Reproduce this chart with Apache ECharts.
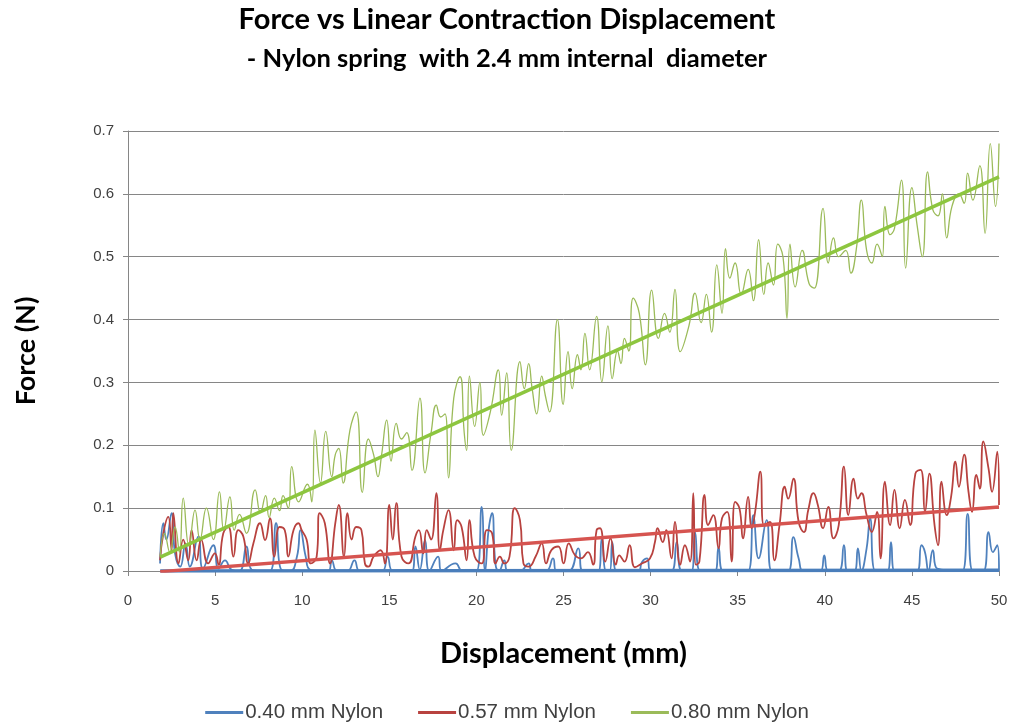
<!DOCTYPE html>
<html><head><meta charset="utf-8">
<script src="https://cdn.jsdelivr.net/npm/echarts@6/dist/echarts.min.js"></script>
<style>html,body{margin:0;padding:0;background:#fff}#c{width:1014px;height:724px}</style>
</head><body><div id="c"></div>
<script>
const titleText = "Force vs Linear Contraction Displacement";
const subtitleText = "- Nylon spring  with 2.4 mm internal  diameter";
const xAxisTitle = "Displacement (mm)";
const yAxisTitle = "Force (N)";
const seriesNames = ["0.40 mm Nylon", "0.57 mm Nylon", "0.80 mm Nylon"];

const blueX = [1.84,2.03,2.2,2.5,2.7,3.0,3.3,3.55,4.04,4.3,4.9,5.2,5.57,5.95,6.4,6.8,7.1,7.6,8.15,8.5,8.8,9.3,9.7,9.9,10.2,10.45,11.0,11.5,11.7,12.0,12.6,13.0,13.3,14.0,14.6,14.9,15.2,15.8,16.3,16.5,16.75,17.05,17.3,17.8,18.0,18.8,19.2,20.0,20.3,20.5,20.7,20.9,21.1,21.3,21.6,21.8,22.5,23.0,23.2,24.0,24.4,24.6,25.3,25.85,26.1,27.0,27.2,27.45,27.65,27.8,28.05,29.3,29.5,29.8,30.0,31.2,31.5,31.8,32.35,32.55,32.85,33.7,33.9,34.15,35.6,35.9,36.2,36.66,36.95,37.9,38.2,38.5,38.8,39.75,39.97,40.2,40.8,41.1,41.3,41.7,41.9,42.1,42.4,42.6,42.9,43.6,43.8,44.0,45.3,45.55,45.75,45.95,46.2,46.45,47.9,48.2,48.5,49.1,49.4,49.65,49.9,50.0];
const blueY = [0.012,0.076,0.05,0.092,0.028,0.007,0.044,0.007,0.055,0.004,0.041,0.004,0.017,0.002,0.0,0.039,0.002,0.0,0.0,0.076,0.002,0.0,0.023,0.065,0.023,0.002,0.0,0.0,0.017,0.0,0.0,0.017,0.0,0.0,0.0,0.023,0.0,0.0,0.0,0.039,0.002,0.049,0.0,0.023,0.0,0.012,0.0,0.0,0.102,0.0,0.065,0.092,0.01,0.0,0.017,0.0,0.0,0.012,0.0,0.0,0.02,0.0,0.0,0.036,0.0,0.0,0.052,0.0,0.0,0.046,0.0,0.0,0.014,0.02,0.0,0.0,0.046,0.0,0.0,0.062,0.0,0.0,0.038,0.0,0.0,0.089,0.02,0.081,0.0,0.0,0.054,0.02,0.0,0.0,0.025,0.0,0.0,0.041,0.0,0.0,0.036,0.0,0.036,0.084,0.0,0.0,0.046,0.0,0.0,0.041,0.03,0.0,0.033,0.004,0.0,0.091,0.0,0.0,0.062,0.03,0.041,0.0];

const redX = [1.84,2.03,2.31,2.5,2.6,2.9,3.17,3.46,3.65,3.94,4.2,4.6,4.99,5.2,5.47,5.76,6.05,6.33,6.62,6.9,7.2,7.58,7.87,8.15,8.4,8.7,9.0,9.2,9.5,9.78,9.97,10.25,10.5,10.83,11.0,11.3,11.6,11.9,12.1,12.4,12.6,12.84,13.1,13.4,13.6,13.8,14.1,14.5,14.75,15.0,15.2,15.4,15.7,16.1,16.5,16.7,16.95,17.15,17.4,17.7,17.9,18.1,18.4,18.7,18.9,19.15,19.44,19.6,19.9,20.3,20.6,20.9,21.1,21.35,21.6,21.9,22.2,22.5,22.7,23.0,23.4,23.75,24.0,24.3,24.7,25.0,25.3,25.66,26.0,26.4,26.7,26.9,27.1,27.4,27.7,28.0,28.2,28.5,28.8,29.1,29.5,29.96,30.25,30.4,30.7,30.9,31.2,31.4,31.7,31.97,32.26,32.45,32.6,32.8,33.1,33.3,33.6,33.9,34.1,34.4,34.65,34.85,35.1,35.3,35.6,35.8,36.0,36.3,36.5,36.85,37.1,37.4,37.7,37.9,38.2,38.5,38.8,39.05,39.35,39.6,39.9,40.2,40.5,40.8,41.1,41.35,41.65,41.9,42.1,42.4,42.7,43.0,43.2,43.45,43.75,44.0,44.3,44.6,44.9,45.2,45.5,45.75,46.0,46.3,46.5,46.7,47.0,47.25,47.5,47.7,48.0,48.25,48.45,48.7,48.9,49.1,49.4,49.6,49.9,50.0];
const redY = [0.017,0.06,0.086,0.033,0.092,0.012,0.05,0.017,0.065,0.017,0.05,0.012,0.028,0.01,0.06,0.07,0.023,0.065,0.055,0.012,0.044,0.076,0.049,0.084,0.023,0.07,0.065,0.023,0.065,0.076,0.065,0.05,0.012,0.023,0.092,0.076,0.012,0.076,0.105,0.023,0.092,0.05,0.07,0.065,0.012,0.007,0.023,0.033,0.012,0.105,0.05,0.108,0.023,0.012,0.055,0.065,0.028,0.065,0.05,0.124,0.033,0.065,0.097,0.033,0.081,0.07,0.017,0.081,0.023,0.012,0.065,0.06,0.012,0.023,0.012,0.023,0.1,0.081,0.012,0.007,0.023,0.044,0.012,0.033,0.039,0.012,0.044,0.025,0.02,0.03,0.01,0.065,0.068,0.015,0.052,0.01,0.025,0.015,0.041,0.006,0.012,0.02,0.046,0.068,0.046,0.065,0.02,0.078,0.01,0.041,0.015,0.124,0.01,0.015,0.121,0.073,0.089,0.036,0.084,0.094,0.015,0.11,0.1,0.052,0.118,0.068,0.094,0.158,0.073,0.078,0.017,0.073,0.134,0.115,0.147,0.078,0.062,0.097,0.124,0.105,0.068,0.102,0.052,0.073,0.166,0.089,0.147,0.115,0.124,0.089,0.062,0.094,0.02,0.142,0.073,0.129,0.068,0.113,0.073,0.155,0.161,0.094,0.155,0.073,0.041,0.142,0.089,0.118,0.174,0.134,0.185,0.126,0.094,0.153,0.131,0.206,0.163,0.126,0.19,0.105];

const greenX = [1.85,2.1,2.4,2.7,2.95,3.17,3.5,3.85,4.13,4.5,4.9,5.25,5.5,5.85,6.1,6.4,6.8,7.3,7.6,7.9,8.1,8.4,8.7,8.9,9.2,9.4,9.8,10.3,10.55,10.73,11.05,11.35,11.7,11.9,12.1,12.35,12.74,13.1,13.45,13.8,14.1,14.35,14.55,14.85,15.1,15.4,15.7,16.0,16.3,16.76,17.05,17.4,17.7,17.95,18.2,18.4,18.7,19.06,19.3,19.44,19.6,19.9,20.2,20.4,20.8,21.26,21.45,21.74,22.0,22.5,22.75,23.0,23.2,23.46,23.75,23.95,24.2,24.65,24.98,25.26,25.5,25.8,26.0,26.23,26.5,26.9,27.2,27.55,27.8,28.1,28.3,28.5,28.75,29.0,29.35,29.7,30.06,30.45,30.8,31.1,31.4,31.7,32.2,32.55,32.9,33.2,33.5,33.8,34.1,34.3,34.55,34.85,35.2,35.6,35.9,36.2,36.5,36.75,37.05,37.3,37.6,37.83,38.0,38.3,38.7,39.1,39.4,39.9,40.2,40.5,40.8,41.2,41.5,41.8,42.1,42.4,42.7,43.0,43.3,43.45,43.75,44.0,44.4,44.64,45.0,45.3,45.6,45.9,46.2,46.5,46.75,47.0,47.3,47.7,48.0,48.2,48.5,48.9,49.2,49.5,49.8,50.0];
const greenY = [0.023,0.06,0.03,0.07,0.03,0.116,0.04,0.097,0.05,0.1,0.05,0.126,0.065,0.118,0.065,0.09,0.06,0.129,0.093,0.12,0.085,0.116,0.096,0.12,0.1,0.166,0.11,0.138,0.11,0.224,0.14,0.222,0.15,0.185,0.195,0.14,0.224,0.253,0.125,0.21,0.185,0.15,0.183,0.24,0.175,0.235,0.21,0.22,0.16,0.275,0.156,0.22,0.264,0.245,0.25,0.148,0.275,0.309,0.22,0.192,0.31,0.23,0.30,0.216,0.253,0.32,0.248,0.315,0.192,0.333,0.29,0.33,0.29,0.25,0.31,0.28,0.253,0.40,0.265,0.349,0.29,0.344,0.32,0.378,0.32,0.405,0.301,0.39,0.306,0.35,0.33,0.37,0.35,0.434,0.41,0.328,0.447,0.37,0.41,0.38,0.448,0.349,0.39,0.442,0.395,0.44,0.38,0.487,0.41,0.513,0.466,0.49,0.44,0.48,0.43,0.527,0.44,0.49,0.455,0.52,0.5,0.402,0.52,0.452,0.51,0.457,0.45,0.577,0.49,0.53,0.50,0.51,0.474,0.51,0.59,0.51,0.49,0.52,0.5,0.58,0.535,0.545,0.622,0.482,0.61,0.55,0.50,0.635,0.575,0.565,0.60,0.53,0.58,0.60,0.585,0.633,0.59,0.645,0.537,0.68,0.58,0.68];

const trendX = [1.85, 50];
const blueTrendY = [0.0, 0.001];
const redTrendY = [-0.001, 0.102];
const greenTrendY = [0.022, 0.627];

const xTicks = {min: 0, max: 50, interval: 5};
const yTicks = {min: 0, max: 0.7, interval: 0.1};

function zip(xs, ys) { return xs.map((x, i) => [x, ys[i]]); }

const chart = echarts.init(document.getElementById('c'), null, {renderer: 'canvas'});
const axisFont = {fontFamily: 'Liberation Sans, Arial, sans-serif', fontSize: 15, color: '#404040'};
const thin = (name, xs, ys, color, width, z) => ({
  name, type: 'line', data: zip(xs, ys), showSymbol: false, symbol: 'none',
  smooth: 0.5, lineStyle: {color, width}, itemStyle: {color}, z, animation: false
});
const trend = (name, ys, color, z) => ({
  name, type: 'line', data: zip(trendX, ys), showSymbol: false, symbol: 'none',
  lineStyle: {color, width: 3.5}, itemStyle: {color}, z, animation: false, legendHoverLink: false
});

chart.setOption({
  animation: false,
  backgroundColor: '#fff',
  title: [
    {text: titleText, left: 'center', top: 0, textStyle: {fontFamily: 'Lato, sans-serif', fontWeight: 'bold', fontSize: 29, color: '#000'}},
    {text: subtitleText, left: 'center', top: 41, textStyle: {fontFamily: 'Lato, sans-serif', fontWeight: 'bold', fontSize: 25.5, color: '#000'}}
  ],
  grid: {left: 128, right: 15, top: 131, bottom: 153, containLabel: false},
  legend: {
    data: seriesNames, top: 697, left: 'center', icon: 'rect', itemWidth: 38, itemHeight: 3,
    itemGap: 35, textStyle: {fontFamily: 'Liberation Sans, Arial, sans-serif', fontSize: 20.5, color: '#404040', padding: [0, 0, 0, -3]}
  },
  xAxis: {
    type: 'value', min: xTicks.min, max: xTicks.max, interval: xTicks.interval,
    name: xAxisTitle, nameLocation: 'middle', nameGap: 68,
    nameTextStyle: {fontFamily: 'Lato, sans-serif', fontWeight: 'bold', fontSize: 29, color: '#000'},
    axisLine: {show: true, lineStyle: {color: '#868686', width: 1}},
    axisTick: {show: true, length: 5, lineStyle: {color: '#868686'}},
    axisLabel: Object.assign({margin: 22}, axisFont),
    splitLine: {show: false}
  },
  yAxis: {
    type: 'value', min: yTicks.min, max: yTicks.max, interval: yTicks.interval,
    name: yAxisTitle, nameLocation: 'middle', nameGap: 88, nameRotate: 90,
    nameTextStyle: {fontFamily: 'Lato, sans-serif', fontWeight: 'bold', fontSize: 27, color: '#000'},
    axisLine: {show: true, lineStyle: {color: '#868686', width: 1}},
    axisTick: {show: true, length: 5, lineStyle: {color: '#868686'}},
    axisLabel: Object.assign({margin: 14, formatter: v => String(Math.round(v * 10) / 10)}, axisFont),
    splitLine: {show: true, lineStyle: {color: '#868686', width: 1}}
  },
  series: [
    thin(seriesNames[0], blueX, blueY, '#4F81BD', 1.8, 2),
    thin(seriesNames[1], redX, redY, '#B8423F', 1.8, 3),
    thin(seriesNames[2], greenX, greenY, '#9BBB59', 1.3, 4),
    trend('trend0', blueTrendY, '#4A7EBB', 5),
    trend('trend1', redTrendY, '#D65450', 6),
    trend('trend2', greenTrendY, '#8DC63F', 7)
  ]
});
</script></body></html>
